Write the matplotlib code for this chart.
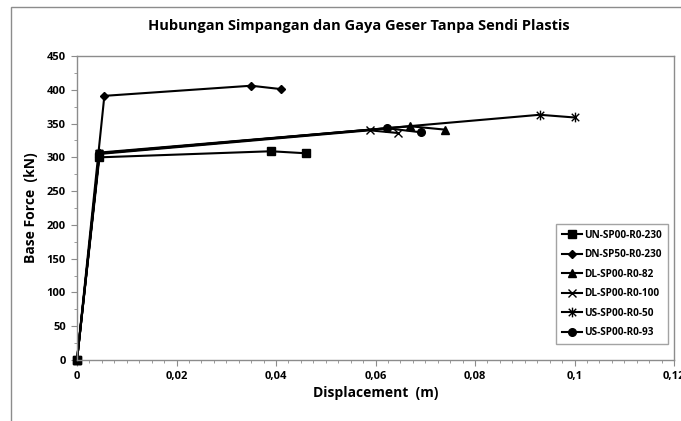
import matplotlib
matplotlib.use("Agg")
import matplotlib.pyplot as plt
from matplotlib.path import Path
from matplotlib.patches import Rectangle
from matplotlib.ticker import MultipleLocator, FuncFormatter

# data
disp_un230 = [0, 0.0045, 0.039, 0.046]
force_un230 = [0, 300, 309, 306]
disp_dn230 = [0, 0.0055, 0.035, 0.041]
force_dn230 = [0, 391, 406, 401]
disp_dl82 = [0, 0.0045, 0.067, 0.074]
force_dl82 = [0, 307, 346, 341]
disp_dl100 = [0, 0.0045, 0.0588, 0.0645]
force_dl100 = [0, 305, 340, 336]
disp_us50 = [0, 0.0045, 0.093, 0.100]
force_us50 = [0, 306, 363, 359]
disp_us93 = [0, 0.0045, 0.0624, 0.0692]
force_us93 = [0, 306, 343, 337]

labels = ["UN-SP00-R0-230", "DN-SP50-R0-230", "DL-SP00-R0-82",
          "DL-SP00-R0-100", "US-SP00-R0-50", "US-SP00-R0-93"]

plt.rcParams["font.family"] = ["Open Sans", "DejaVu Sans"]

# excel-like star marker: x plus a vertical bar
star = Path([(-1, -1), (1, 1), (-1, 1), (1, -1), (0, -1.3), (0, 1.3)],
            [Path.MOVETO, Path.LINETO, Path.MOVETO, Path.LINETO, Path.MOVETO, Path.LINETO])

W, H = 681, 421
fig = plt.figure(figsize=(W / 100, H / 100), dpi=100)
fig.patches.append(Rectangle((11 / W, -0.1), 1.2, 1.1 - 7 / H, transform=fig.transFigure,
                             fill=False, edgecolor="#8c8c8c", linewidth=1.0))

ax = fig.add_axes([77 / W, (H - 360) / H, (674 - 77) / W, (360 - 56) / H])

kw = dict(color="black", linewidth=1.5, markerfacecolor="black", markeredgecolor="black", clip_on=False)
ax.plot(disp_un230, force_un230, marker="s", markersize=6, label=labels[0], **kw)
ax.plot(disp_dn230, force_dn230, marker="D", markersize=4, label=labels[1], **kw)
ax.plot(disp_dl82, force_dl82, marker="^", markersize=6, label=labels[2], **kw)
ax.plot(disp_dl100, force_dl100, marker="x", markersize=6, markeredgewidth=1.0,
        label=labels[3], color="black", linewidth=1.5)
ax.plot(disp_us50, force_us50, marker=star, markersize=7, markeredgewidth=1.0,
        label=labels[4], color="black", linewidth=1.5)
ax.plot(disp_us93, force_us93, marker="o", markersize=5.5, label=labels[5], **kw)
# put the origin square on top
ax.plot(disp_un230[:1], force_un230[:1], marker="s", markersize=6, **kw)

ax.set_xlim(0, 0.12)
ax.set_ylim(0, 450)
ax.xaxis.set_major_locator(MultipleLocator(0.02))
ax.xaxis.set_minor_locator(MultipleLocator(0.0025))
ax.yaxis.set_major_locator(MultipleLocator(50))
ax.yaxis.set_minor_locator(MultipleLocator(25))
ax.xaxis.set_major_formatter(FuncFormatter(lambda v, p: "0" if abs(v) < 1e-9 else f"{v:g}".replace(".", ",")))

for s in ax.spines.values():
    s.set_color("#8c8c8c")
    s.set_linewidth(1.0)
ax.tick_params(which="both", color="#8c8c8c", direction="out")
ax.tick_params(which="major", length=4, labelsize=8, pad=4)
ax.tick_params(which="minor", length=2.5)
for t in ax.get_xticklabels() + ax.get_yticklabels():
    t.set_fontweight("bold")

ax.set_xlabel("Displacement  (m)", fontsize=10, fontweight="bold", labelpad=3)
ax.set_ylabel("Base Force  (kN)", fontsize=10, fontweight="bold", labelpad=6)
fig.text(359 / W, (H - 26) / H, "Hubungan Simpangan dan Gaya Geser Tanpa Sendi Plastis",
         ha="center", va="center", fontsize=10.5, fontweight="bold")

leg = ax.legend(loc="lower right", bbox_to_anchor=(0.998, 0.035),
                frameon=True, fancybox=False, handlelength=2.0, handletextpad=0.2,
                labelspacing=0.85, borderpad=0.6, prop={"weight": "bold", "size": 7.2})
leg.get_frame().set_edgecolor("#8c8c8c")
leg.get_frame().set_linewidth(1.0)

fig.savefig("out.png", dpi=100)
